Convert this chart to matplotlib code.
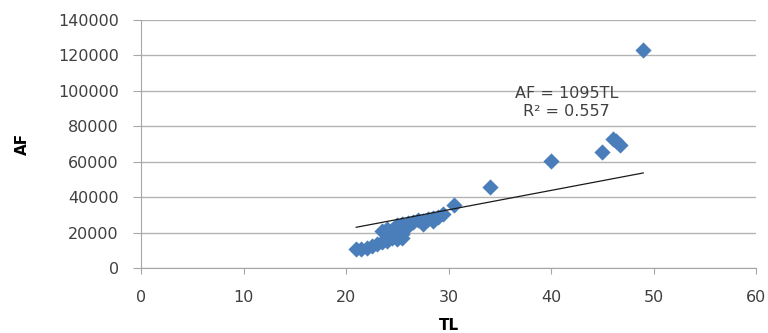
import matplotlib
matplotlib.use("Agg")
import matplotlib.pyplot as plt
import numpy as np

TL = [21.0, 21.5, 22.0, 22.5, 23.0, 23.5, 24.0, 24.5, 25.0, 25.5,
      23.5, 24.0, 24.5, 25.0, 25.5, 26.0, 26.5, 27.0, 27.5, 28.0,
      28.5, 29.0, 29.5, 24.5, 25.5, 27.5, 28.5, 26.0, 24.0, 30.5,
      34.0, 40.0, 45.0, 46.0, 46.3, 46.7, 49.0]
AF = [11000, 10500, 11500, 12500, 13500, 14500, 15000, 17000, 16500, 17000,
      21000, 22000, 21500, 24500, 25000, 25500, 26000, 27000, 26500, 27500,
      28000, 29000, 30500, 18500, 19000, 25000, 26500, 23500, 20000, 35500,
      45500, 60500, 65500, 73000, 71500, 69500, 123000]
slope = 1095
eq_text = "AF = 1095TL\nR² = 0.557"
x_ticks = [0, 10, 20, 30, 40, 50, 60]
y_ticks = [0, 20000, 40000, 60000, 80000, 100000, 120000, 140000]

plt.rcParams['font.family'] = ['DejaVu Sans']
fig = plt.figure(figsize=(7.68, 3.33), dpi=100)
ax = fig.add_axes([141/768, 65/333, 615/768, 248/333])

ax.scatter(TL, AF, marker='D', s=68, color='#4a7ebb', zorder=3, linewidths=0)
xs = np.array([min(TL), max(TL)])
ax.plot(xs, slope * xs, color='#1a1a1a', lw=0.9, zorder=4)

ax.set_xlim(0, 60)
ax.set_ylim(0, 140000)
ax.set_xticks(x_ticks)
ax.set_yticks(y_ticks)
ax.yaxis.grid(True, color='#b3b3b3', lw=1)
ax.set_axisbelow(True)
for s in ['top', 'right']:
    ax.spines[s].set_visible(False)
for s in ['left', 'bottom']:
    ax.spines[s].set_color('#a6a6a6')
ax.tick_params(axis='y', length=6, color='#a6a6a6', pad=10, labelsize=11.5, labelcolor='#404040')
ax.tick_params(axis='x', length=4, color='#a6a6a6', pad=12, labelsize=11.5, labelcolor='#404040')

ax.set_xlabel('TL', fontweight='bold', fontsize=11, labelpad=9)
ax.set_ylabel('AF', fontweight='bold', fontsize=11, labelpad=20)

ax.text(41.5, 93500, eq_text, ha='center', va='center', fontsize=11.5,
        color='#404040', linespacing=1.3)

fig.savefig('out.png', dpi=100)
